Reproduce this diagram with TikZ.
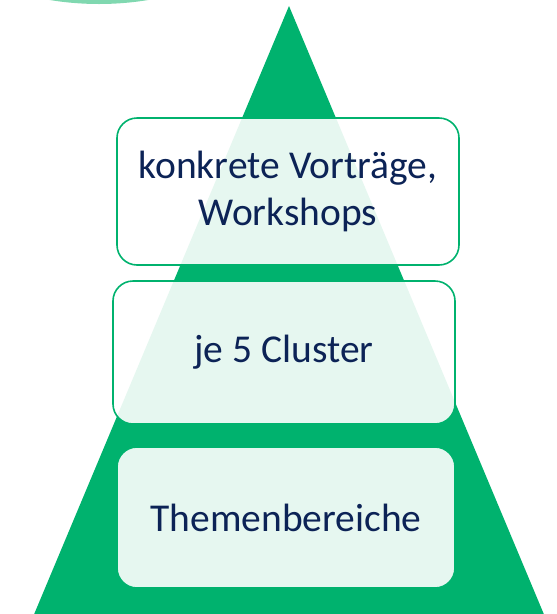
\documentclass[tikz,border=0pt]{standalone}
\usepackage{fontspec}
\setmainfont{Carlito}
\definecolor{pgreen}{RGB}{0,178,110}
\definecolor{pcircle}{RGB}{128,216,176}
\definecolor{pnavy}{RGB}{12,35,86}
\tikzset{
  tier/.style={draw=pgreen, line width=1.6pt, fill=white, fill opacity=0.9, text opacity=1,
    rounded corners=20pt, text=pnavy, align=center, inner sep=0pt,
    font=\fontsize{39.5}{47}\selectfont},
}
\begin{document}
\begin{tikzpicture}[x=1pt,y=-1pt]
\useasboundingbox (0,0) rectangle (557,614);
\begin{scope}
\clip (0,0) rectangle (557,614);
\fill[pcircle] (99,-298) circle[radius=302];
\fill[pgreen] (289,6) -- (548,624) -- (30,624) -- cycle;
\end{scope}
\node[tier, minimum width=342pt, minimum height=147pt] (t1) at (288,191.5) {konkrete Vorträge,\\Workshops};
\node[tier, minimum width=342pt, minimum height=143pt] (t2) at (284,352.5) {je 5 Cluster};
\node[tier, minimum width=338pt, minimum height=141pt] (t3) at (286,517.5) {Themenbereiche};
\end{tikzpicture}
\end{document}
